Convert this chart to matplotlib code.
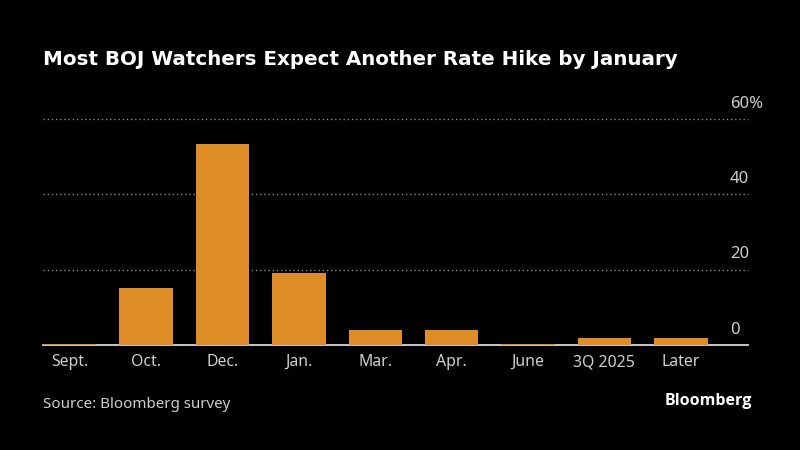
import numpy as np
import matplotlib
matplotlib.use("Agg")
import matplotlib.pyplot as plt

categories = ["Sept.", "Oct.", "Dec.", "Jan.", "Mar.", "Apr.", "June", "3Q 2025", "Later"]
values = [0.3, 15.1, 53.4, 19.1, 4.0, 4.0, 0.3, 1.9, 1.9]
y_ticks = [0, 20, 40, 60]
y_labels = ["0", "20", "40", "60%"]

bg = "#000000"
orange = "#de8c25"
text_col = "#cfcfcf"
label_font = "Noto Sans"

W, H = 800, 450
fig = plt.figure(figsize=(W / 100, H / 100), dpi=100, facecolor=bg)

# axes box in pixels: left 43, right 748, zero line at y=345, 60 at y=119
ax = fig.add_axes([43 / W, (H - 345) / H, 705 / W, 226 / H], facecolor=bg)
x = np.arange(len(categories))
ax.bar(x, values, width=0.7, color=orange, zorder=3)
ax.set_xlim(-0.35, 8.88)
ax.set_ylim(0, 60)

for s in ax.spines.values():
    s.set_visible(False)

# dotted gridlines, solid baseline
for t in y_ticks[1:]:
    ax.axhline(t, color="#8a8a8a", lw=1, ls=(0, (1, 2)), zorder=1, clip_on=False)
ax.axhline(0, color="#d8d8d8", lw=1.3, zorder=2, clip_on=False)

ax.set_xticks(x)
ax.set_xticklabels(categories, fontsize=11.4, color=text_col, family=label_font)
ax.tick_params(axis="x", length=0, pad=6.5)
ax.set_yticks([])

# y labels sit above their gridlines at the right edge
for t, lab in zip(y_ticks, y_labels):
    ax.annotate(lab, xy=(1, t), xycoords=("axes fraction", "data"),
                xytext=(-18 / 1.389, 15.5 / 1.389), textcoords="offset points",
                ha="left", va="center", fontsize=12, color=text_col, family=label_font)

fig.text(43 / W, 1 - 59 / H, "Most BOJ Watchers Expect Another Rate Hike by January",
         fontsize=14.3, fontweight="bold", color="#ffffff", va="center", family="DejaVu Sans")
fig.text(43 / W, 1 - 404 / H, "Source: Bloomberg survey", fontsize=10.9, color=text_col,
         va="center", family=label_font)
fig.text(752 / W, 1 - 401 / H, "Bloomberg", fontsize=11.5, fontweight="bold", color="#ffffff",
         va="center", ha="right", family="Open Sans")

fig.savefig("out.png", dpi=100, facecolor=bg)
